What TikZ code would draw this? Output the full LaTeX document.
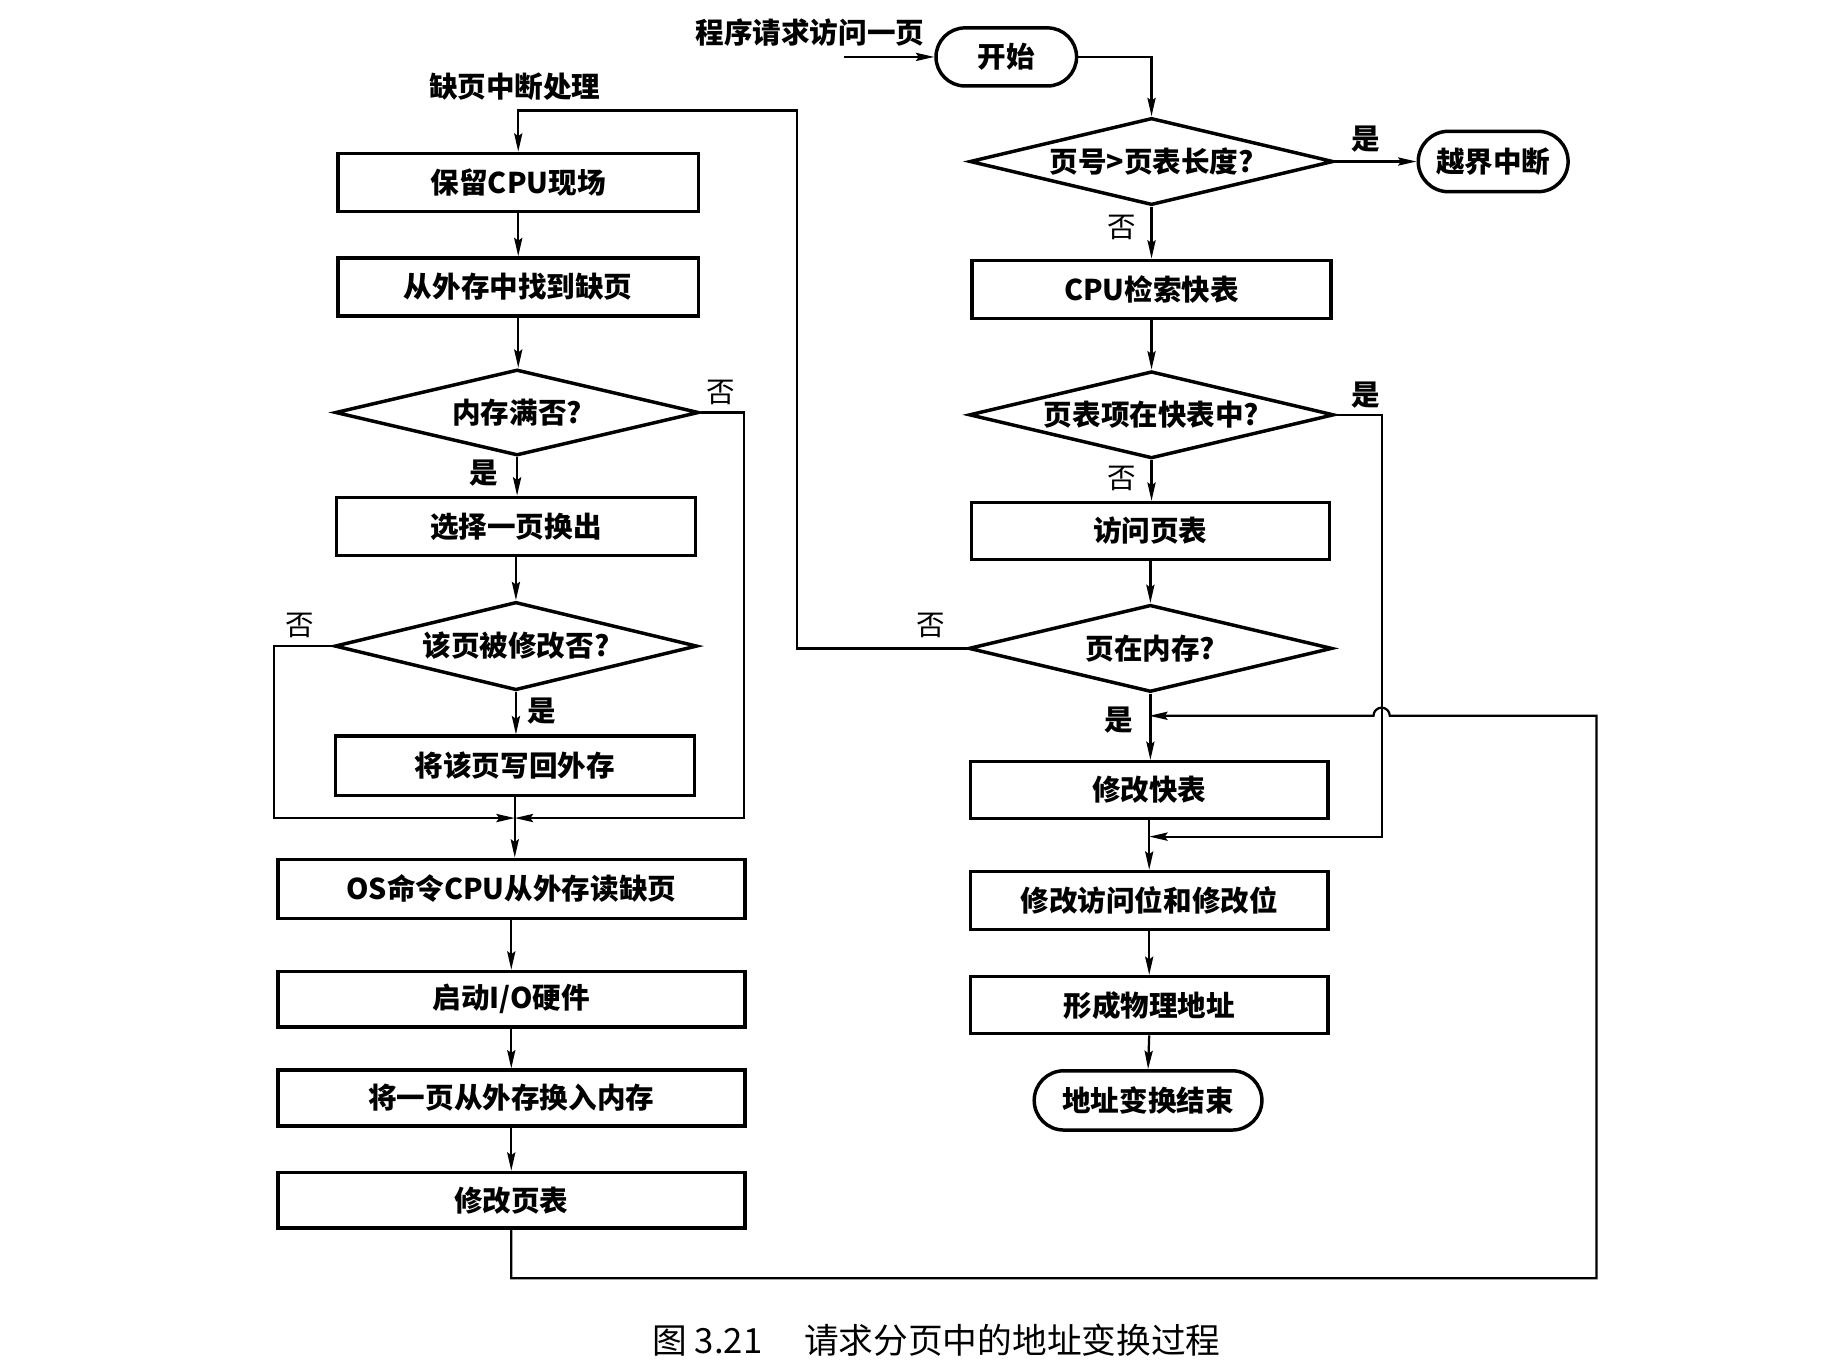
\documentclass[tikz,border=0pt]{standalone}
\usepackage{fontspec}
\setmainfont{Noto Sans CJK SC}
\usetikzlibrary{shapes.geometric,shapes.misc,arrows.meta}
\begin{document}
\begin{tikzpicture}[x=0.02cm,y=-0.02cm,
  font=\fontsize{14}{16}\selectfont\bfseries,
  box/.style={draw,line width=1.7pt,rectangle,inner sep=0pt,minimum width=6.18cm,minimum height=1cm},
  wbox/.style={box,minimum width=8.04cm,minimum height=0.96cm},
  dia/.style={draw,line width=1.7pt,diamond,aspect=4.1,inner sep=0pt,minimum width=6.26cm,minimum height=1.5cm},
  term/.style={draw,line width=1.7pt,rounded rectangle,inner sep=0pt,minimum height=1cm},
  lbl/.style={inner sep=1pt},
  yes/.style={inner sep=1pt},
  no/.style={inner sep=1pt,font=\fontsize{14}{16}\selectfont\mdseries},
  conn/.style={line width=1.1pt},
  arr/.style={conn,-{Stealth[length=9pt,width=4pt,inset=1.4pt]}}
]
\fill[white] (0,0) rectangle (1568,1176);
\useasboundingbox (0,0) rectangle (1568,1176);

% ---- right column ----
\node[lbl] (lreq) at (697,28) {程序请求访问一页};
\coordinate (reqtail) at (726,49);
\node[term,minimum width=2.42cm] (start) at (866,49) {开始};
\node[dia] (d1) at (991,139) {页号>页表长度?};
\node[term,minimum width=2.58cm,minimum height=1.04cm] (oob) at (1285,139) {越界中断};
\node[box] (tlb) at (991,249) {CPU检索快表};
\node[dia,minimum width=6.28cm] (d2) at (991,357) {页表项在快表中?};
\node[box,minimum width=6.16cm,minimum height=0.98cm] (pt) at (990,457) {访问页表};
\node[dia] (d3) at (990,558) {页在内存?};
\node[box,minimum width=6.16cm,minimum height=0.98cm] (mtlb) at (989,680) {修改快表};
\node[box,minimum width=6.16cm] (mbits) at (989,775) {修改访问位和修改位};
\node[box,minimum width=6.16cm,minimum height=0.98cm] (phys) at (989,865) {形成物理地址};
\node[term,minimum width=3.92cm,minimum height=1.02cm] (fin) at (988,947) {地址变换结束};

% ---- left column ----
\node[lbl] (lpf) at (443,75) {缺页中断处理};
\node[box,minimum width=6.2cm] (save) at (446,157) {保留CPU现场};
\node[box,minimum width=6.2cm] (find) at (446,247) {从外存中找到缺页};
\node[dia,minimum height=1.48cm] (d4) at (445,355) {内存满否?};
\node[box] (sel) at (444,453) {选择一页换出};
\node[dia,minimum width=6.24cm,minimum height=1.52cm] (d5) at (444,556) {该页被修改否?};
\node[box,minimum height=1.02cm] (wb) at (443,659) {将该页写回外存};
\node[wbox,minimum height=1.02cm] (os) at (440,765) {OS命令CPU从外存读缺页};
\node[wbox] (io) at (440,860) {启动I/O硬件};
\node[wbox] (swap) at (440,945) {将一页从外存换入内存};
\node[wbox] (mpt) at (440,1033) {修改页表};

% junction coordinates
\coordinate (jl) at (443,704);
\coordinate (jr) at (989,720);
\coordinate (jret) at (989,616);

% ---- right connectors ----
\draw[arr] (reqtail) -- (start.west);
\draw[arr] (start.east) -| (d1.north);
\draw[arr] (d1.east) -- (oob.west);
\node[yes] (y1) at (1175,120) {是};
\draw[arr] (d1.south) -- (d1.south |- tlb.north);
\node[no] (n1) at (965,196) {否};
\draw[arr] (tlb.south) -- (tlb.south |- d2.north);
\draw[arr] (d2.east) -- (1189,357) -- (1189,720) -- (jr);
\node[yes] (y2) at (1175,340) {是};
\draw[arr] (d2.south) -- (d2.south |- pt.north);
\node[no] (n2) at (965,412) {否};
\draw[arr] (pt.south) -- (pt.south |- d3.north);
\draw[arr] (d3.west) -- (686,558) -- (686,95) -- (446,95) -- (save.north);
\node[no] (n3) at (801,538) {否};
\draw[arr] (d3.south) -- (d3.south |- mtlb.north);
\node[yes] (y3) at (963,620) {是};
\draw[arr] (mtlb.south) -- (mbits.north);
\draw[arr] (mbits.south) -- (phys.north);
\draw[arr] (phys.south) -- (fin.north);

% return line with hop
\draw[arr] (mpt.south) -- (440,1100) -- (1374,1100) -- (1374,616) -- (1196,616)
   arc[start angle=0,end angle=180,radius=0.14cm] -- (jret);

% ---- left connectors ----
\draw[arr] (save.south) -- (find.north);
\draw[arr] (find.south) -- (find.south |- d4.north);
\draw[arr] (d4.east) -- (640,355) -- (640,704) -- (jl);
\node[no] (n4) at (620,338) {否};
\draw[arr] (d4.south) -- (d4.south |- sel.north);
\node[yes] (y4) at (416,407) {是};
\draw[arr] (sel.south) -- (sel.south |- d5.north);
\draw[arr] (d5.west) -- (236,556) -- (236,704) -- (jl);
\node[no] (n5) at (258,538) {否};
\draw[arr] (d5.south) -- (d5.south |- wb.north);
\node[yes] (y5) at (466,612) {是};
\draw[arr] (wb.south) -- (wb.south |- os.north);
\draw[arr] (os.south) -- (io.north);
\draw[arr] (io.south) -- (swap.north);
\draw[arr] (swap.south) -- (mpt.north);

% caption
\node[font=\fontsize{17}{20}\selectfont\mdseries] (cap) at (806,1153) {图 3.21\hspace{1.2em}请求分页中的地址变换过程};
\end{tikzpicture}
\end{document}
